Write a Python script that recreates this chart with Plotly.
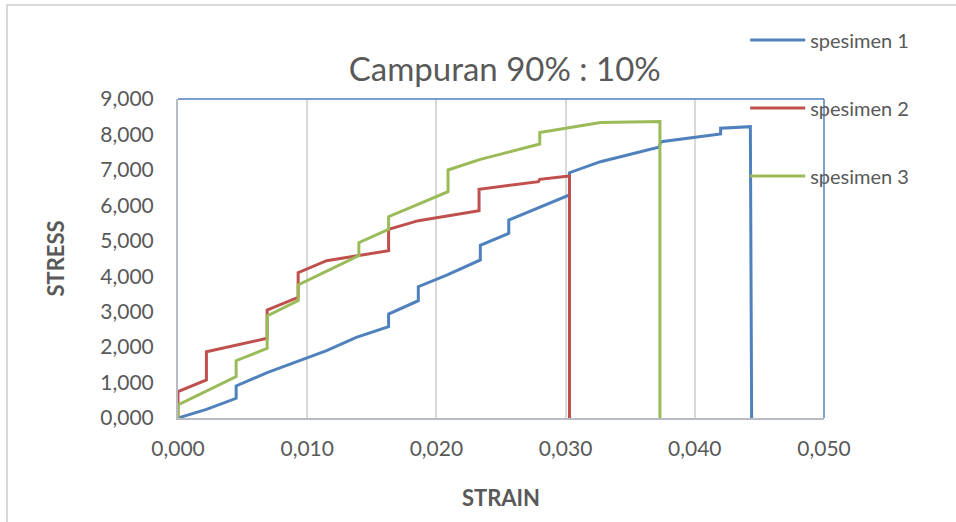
import plotly.graph_objects as go

# strain / stress values (stress shown in thousands, e.g. 9,000)
strain_1 = [0, 0.0022, 0.0045, 0.0045, 0.0069, 0.0094, 0.0115, 0.0138, 0.0163, 0.0163,
            0.0186, 0.0186, 0.0208, 0.0234, 0.0234, 0.0256, 0.0256, 0.0303, 0.0303, 0.0327,
            0.0372, 0.0374, 0.0420, 0.0420, 0.0443, 0.0444]
stress_1 = [0, 0.245, 0.555, 0.903, 1.278, 1.617, 1.899, 2.277, 2.576, 2.934,
            3.309, 3.704, 4.034, 4.458, 4.872, 5.210, 5.586, 6.292, 6.921, 7.232,
            7.637, 7.796, 8.013, 8.174, 8.219, 0]

strain_2 = [0, 0, 0.0022, 0.0022, 0.0069, 0.0069, 0.0093, 0.0093, 0.0115, 0.0138,
            0.0163, 0.0163, 0.0186, 0.0233, 0.0233, 0.0279, 0.0280, 0.0303, 0.0303]
stress_2 = [0, 0.743, 1.072, 1.871, 2.248, 3.047, 3.405, 4.100, 4.438, 4.580,
            4.721, 5.324, 5.567, 5.849, 6.453, 6.668, 6.734, 6.828, 0]

strain_3 = [0, 0, 0.0045, 0.0045, 0.0069, 0.0069, 0.0093, 0.0093, 0.0140, 0.0140,
            0.0163, 0.0163, 0.0209, 0.0209, 0.0234, 0.0280, 0.0280, 0.0327, 0.0373, 0.0373]
stress_3 = [0, 0.367, 1.166, 1.617, 1.965, 2.878, 3.310, 3.752, 4.580, 4.946,
            5.324, 5.680, 6.386, 6.998, 7.298, 7.730, 8.051, 8.334, 8.363, 0]

series = [
    ("spesimen 1", strain_1, stress_1, "#4F81BD"),
    ("spesimen 2", strain_2, stress_2, "#C0504D"),
    ("spesimen 3", strain_3, stress_3, "#9BBB59"),
]

FONT = "Lato, 'Open Sans', sans-serif"
GREY = "#595959"

fig = go.Figure()
for name, xs, ys, color in series:
    fig.add_trace(go.Scatter(
        x=xs, y=ys, mode="lines", name=name, legendgroup=name,
        line=dict(color=color, width=3),
    ))

# outer chart frame (only left/top edges fall inside the picture)
fig.add_shape(type="rect", xref="paper", yref="paper",
              x0=-0.2647, x1=1.4, y0=-0.5, y1=1.2947,
              line=dict(color="#D9D9D9", width=2), layer="below")
# blue plot-area border on top and right
fig.add_shape(type="line", xref="paper", yref="paper", x0=0, x1=1, y0=1, y1=1,
              line=dict(color="#4F81BD", width=1.5))
fig.add_shape(type="line", xref="paper", yref="paper", x0=1, x1=1, y0=0, y1=1,
              line=dict(color="#4F81BD", width=1.5))

fig.update_layout(
    width=956, height=522,
    margin=dict(l=178, r=132, t=99, b=104),
    paper_bgcolor="white", plot_bgcolor="white",
    separators=",.",
    font=dict(family=FONT, color=GREY, size=21),
    title=dict(text="Campuran 90% : 10%", x=0.528, xanchor="center",
               y=0.866, yanchor="middle", font=dict(size=33, color=GREY)),
    legend=dict(x=0.878, y=1.246, xanchor="left", yanchor="top",
                font=dict(size=20, color=GREY), tracegroupgap=39,
                itemwidth=55, bgcolor="rgba(0,0,0,0)"),
    xaxis=dict(range=[0, 0.05], dtick=0.01, tick0=0, tickformat=".3f",
               showgrid=True, gridcolor="#D9D9D9", gridwidth=1.5,
               showline=True, linecolor="#B7BCC4", linewidth=2,
               ticks="", ticklabelstandoff=11, zeroline=False,
               title=dict(text="<b>STRAIN</b>", font=dict(size=22, color=GREY), standoff=31)),
    yaxis=dict(range=[0, 9], dtick=1, tick0=0, tickformat=".3f",
               showgrid=False, showline=True, linecolor="#B7BCC4", linewidth=2,
               ticks="", ticklabelstandoff=18, zeroline=False,
               title=dict(text="<b>STRESS</b>", font=dict(size=22, color=GREY), standoff=30)),
)

fig.write_html("out.html", config={"displayModeBar": False},
               post_script="document.body.style.margin='0';")
